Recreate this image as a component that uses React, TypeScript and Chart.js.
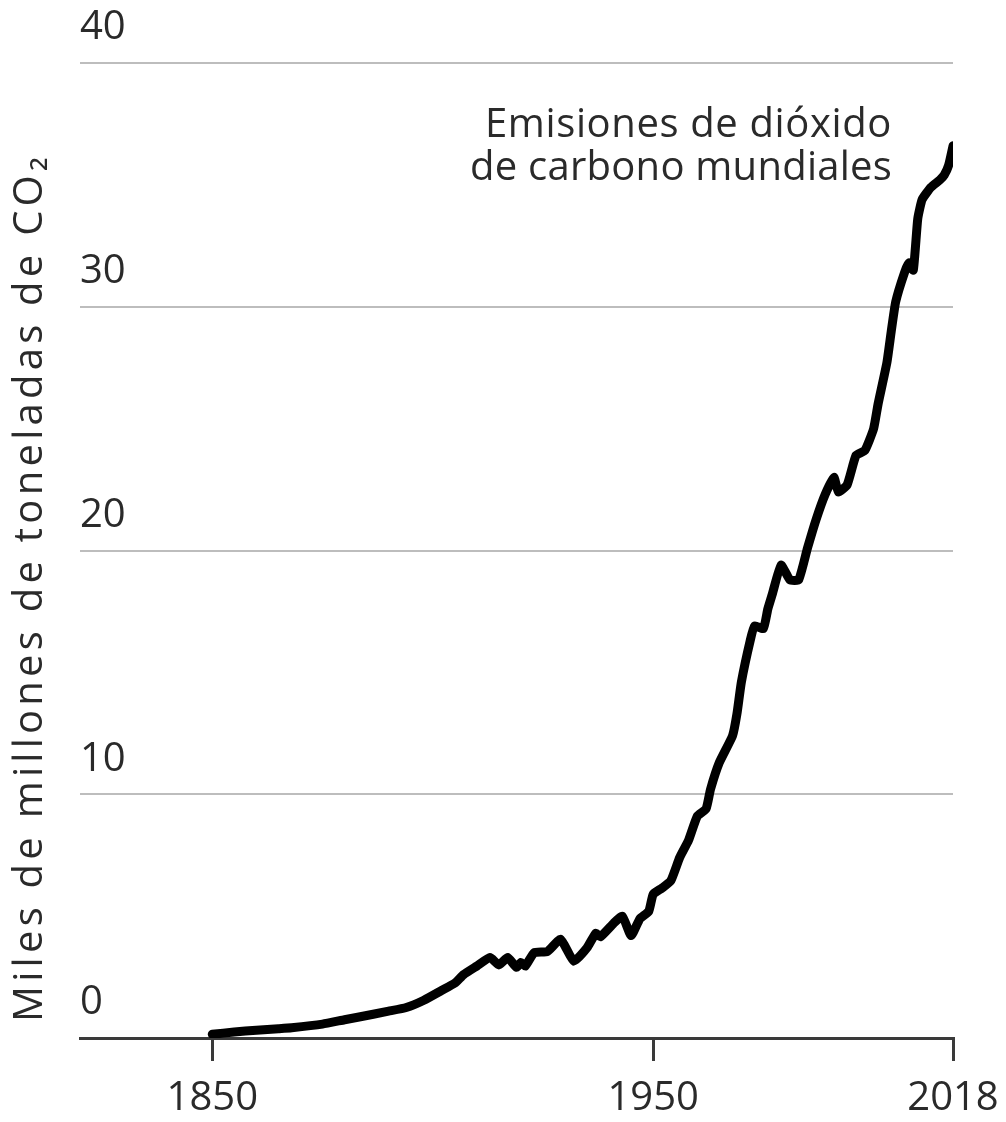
import React, { useEffect, useRef } from "react";
import { Chart, registerables } from "chart.js";

Chart.register(...registerables);

// Global CO2 emissions (billions of tonnes)
const years = [
  1850, 1855, 1860, 1865, 1868, 1875, 1880, 1883, 1890, 1894, 1898,
  1902, 1905, 1907, 1910, 1913, 1915, 1917, 1919, 1920, 1921, 1923,
  1926, 1929, 1932, 1935, 1937, 1938, 1941, 1943, 1945, 1947, 1949,
  1950, 1952, 1954, 1956, 1958, 1960, 1962, 1963, 1965, 1968, 1969,
  1970, 1972, 1973, 1975, 1976, 1977, 1979, 1981, 1983, 1985, 1987,
  1989, 1991, 1992, 1994, 1996, 1998, 2000, 2001, 2003, 2004, 2005,
  2007, 2008, 2009, 2010, 2011, 2013, 2015, 2016, 2017, 2018,
];
const emissions = [
  0.15, 0.25, 0.32, 0.38, 0.42, 0.57, 0.75, 0.85, 1.1, 1.25, 1.55,
  1.95, 2.25, 2.6, 2.95, 3.3, 3.0, 3.3, 2.9, 3.1, 2.95, 3.5,
  3.55, 4.05, 3.15, 3.7, 4.3, 4.15, 4.7, 5.0, 4.2, 4.9, 5.2,
  5.9, 6.15, 6.45, 7.4, 8.1, 9.1, 9.4, 10.2, 11.3, 12.4, 13.3,
  14.6, 16.3, 16.9, 16.8, 17.6, 18.2, 19.4, 18.8, 18.8, 20.1, 21.3,
  22.3, 23.0, 22.4, 22.7, 23.9, 24.1, 25.0, 26.0, 27.7, 29.0, 30.2,
  31.4, 31.8, 31.5, 33.6, 34.4, 34.9, 35.2, 35.4, 35.8, 36.6,
];

const xTickYears = [1850, 1950, 2018];
const yTickStep = 10;
const yMax = 40;
const xMin = 1820;
const xMax = 2018;

const yAxisTitle = "Miles de millones de toneladas de CO₂";
const annotationLines = ["Emisiones de dióxido", "de carbono mundiales"];

const FONT = "'Open Sans', Lato, sans-serif";
const TEXT_COLOR = "#2a2a2a";

function fitText(ctx: CanvasRenderingContext2D, text: string, target: number) {
  (ctx as any).letterSpacing = "0px";
  const w = ctx.measureText(text).width;
  const n = Array.from(text).length;
  const ls = n > 1 ? (target - w) / n : 0;
  (ctx as any).letterSpacing = `${ls.toFixed(2)}px`;
  return ls;
}

export default function App() {
  const canvasRef = useRef<HTMLCanvasElement>(null);

  useEffect(() => {
    document.body.style.margin = "0";
    const canvas = canvasRef.current;
    if (!canvas) return;

    const textPlugin = {
      id: "extraTexts",
      afterDraw(chart: any) {
        const ctx = chart.ctx as CanvasRenderingContext2D;
        ctx.save();
        ctx.fillStyle = TEXT_COLOR;
        // rotated axis title
        ctx.save();
        ctx.font = `40px ${FONT}`;
        ctx.translate(31, 1022);
        ctx.rotate(-Math.PI / 2);
        ctx.textAlign = "left";
        ctx.textBaseline = "middle";
        fitText(ctx, yAxisTitle, 869);
        ctx.fillText(yAxisTitle, 0, 0);
        ctx.restore();
        // annotation (right aligned)
        ctx.font = `40px ${FONT}`;
        ctx.textAlign = "left";
        ctx.textBaseline = "alphabetic";
        fitText(ctx, annotationLines[0], 407);
        ctx.fillText(annotationLines[0], 485, 137);
        fitText(ctx, annotationLines[1], 422);
        ctx.fillText(annotationLines[1], 470, 180);
        ctx.restore();
      },
    };

    const chart = new Chart(canvas, {
      type: "line",
      data: {
        datasets: [
          {
            data: years.map((yr, i) => ({ x: yr, y: emissions[i] })),
            borderColor: "#000000",
            borderWidth: 9,
            pointRadius: 0,
            tension: 0.15,
            fill: false,
            borderCapStyle: "round",
            borderJoinStyle: "round",
          },
        ],
      },
      options: {
        responsive: false,
        animation: false,
        layout: { padding: { left: 80, right: 53, top: 63, bottom: -15 } },
        plugins: {
          legend: { display: false },
          tooltip: { enabled: false },
        },
        scales: {
          x: {
            type: "linear",
            min: xMin,
            max: xMax,
            afterBuildTicks: (scale: any) => {
              scale.ticks = xTickYears.map((v) => ({ value: v }));
            },
            afterFit: (scale: any) => {
              scale.paddingRight = 0;
              scale.paddingLeft = 0;
            },
            grid: {
              drawOnChartArea: false,
              drawTicks: true,
              tickLength: 23,
              color: "#3a3a3a",
              lineWidth: 3,
            },
            border: { display: true, color: "#3a3a3a", width: 3 },
            ticks: {
              autoSkip: false,
              maxRotation: 0,
              padding: 14,
              color: TEXT_COLOR,
              font: { size: 40, family: FONT },
              callback: (v: any) => String(v),
            },
          },
          y: {
            min: 0,
            max: yMax,
            ticks: {
              stepSize: yTickStep,
              mirror: true,
              padding: 0,
              labelOffset: -35,
              color: TEXT_COLOR,
              font: { size: 40, family: FONT },
              callback: (v: any) => String(v),
            },
            grid: {
              drawTicks: false,
              color: (c: any) => (c.tick && c.tick.value === 0 ? "rgba(0,0,0,0)" : "#bdbdbd"),
              lineWidth: 2,
            },
            border: { display: false },
          },
        },
      },
      plugins: [textPlugin],
    });

    return () => chart.destroy();
  }, []);

  return (
    <div style={{ width: 1006, height: 1122, background: "#fff" }}>
      <canvas ref={canvasRef} width={1006} height={1122} style={{ display: "block" }} />
    </div>
  );
}
